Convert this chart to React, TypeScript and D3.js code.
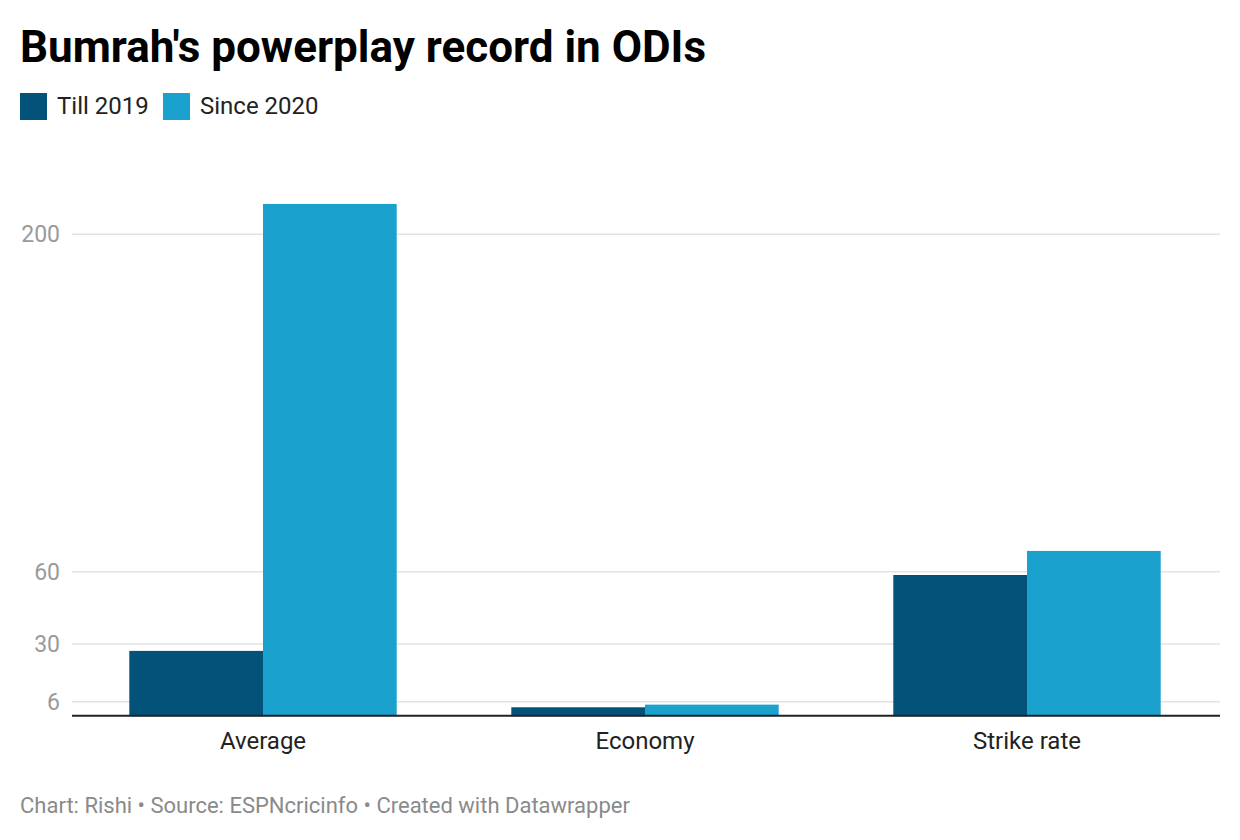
import React, { useEffect } from "react";
import * as d3 from "d3";

// chart data
const categories = ["Average", "Economy", "Strike rate"];
const seriesNames = ["Till 2019", "Since 2020"];
const till2019 = [27.1, 3.7, 58.6];
const since2020 = [212.6, 4.8, 68.6];
const tickValues = [6, 30, 60, 200];

const colors = ["#03527a", "#1ba1cd"];

const WIDTH = 1240;
const HEIGHT = 840;

const App: React.FC = () => {
  useEffect(() => {
    document.body.style.margin = "0";
  }, []);

  // scales
  const xScale = d3
    .scaleBand<string>()
    .domain(categories)
    .range([72, 1218])
    .paddingInner(0.3)
    .paddingOuter(0.15);

  const subScale = d3
    .scaleBand<string>()
    .domain(seriesNames)
    .range([0, xScale.bandwidth()]);

  const yScale = d3.scaleLinear().domain([0, 200]).range([716.2, 234.3]);

  const font = "Roboto, 'Noto Sans', sans-serif";
  const series = [till2019, since2020];

  return (
    <svg width={WIDTH} height={HEIGHT} style={{ display: "block", background: "#fff" }} fontFamily={font}>
      {/* title */}
      <text x={20} y={62} fontSize={44} fontWeight={700} fill="#000">
        Bumrah's powerplay record in ODIs
      </text>

      {/* legend */}
      {seriesNames.map((name, i) => {
        const x0 = i === 0 ? 20 : 163;
        return (
          <g key={name}>
            <rect x={x0} y={93} width={27} height={27} fill={colors[i]} />
            <text x={x0 + 37} y={114} fontSize={24} fill="#222">
              {name}
            </text>
          </g>
        );
      })}

      {/* gridlines + tick labels */}
      {tickValues.map((t) => (
        <g key={t}>
          <line x1={72} x2={1220} y1={yScale(t)} y2={yScale(t)} stroke="#e3e3e3" strokeWidth={1.5} />
          <text x={60} y={yScale(t) + 8} fontSize={23} fill="#9a9a9a" textAnchor="end">
            {t}
          </text>
        </g>
      ))}

      {/* bars */}
      {categories.map((c, ci) => (
        <g key={c} transform={`translate(${xScale(c)},0)`}>
          {series.map((vals, si) => (
            <rect
              key={si}
              x={subScale(seriesNames[si])}
              y={yScale(vals[ci])}
              width={subScale.bandwidth()}
              height={yScale(0) - yScale(vals[ci])}
              fill={colors[si]}
            />
          ))}
          <text
            x={xScale.bandwidth() / 2}
            y={749}
            fontSize={24}
            fill="#222"
            textAnchor="middle"
          >
            {c}
          </text>
        </g>
      ))}

      {/* baseline */}
      <line x1={72} x2={1220} y1={715.7} y2={715.7} stroke="#222" strokeWidth={2} />

      {/* footer */}
      <text x={20} y={813} fontSize={22} fill="#8a8a8a">
        Chart: Rishi • Source: ESPNcricinfo • Created with Datawrapper
      </text>
    </svg>
  );
};

export default App;
